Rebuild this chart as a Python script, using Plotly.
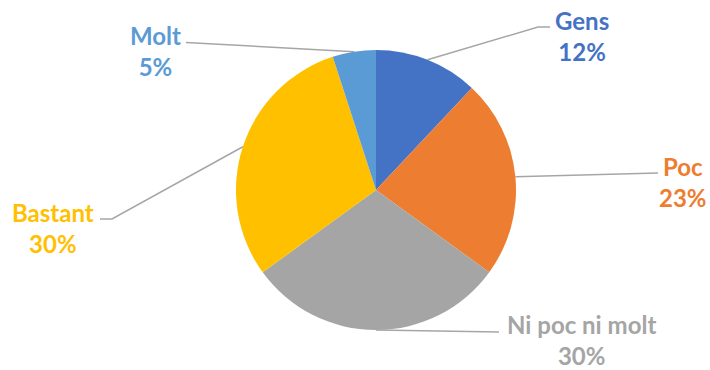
import numpy as np
import plotly.graph_objects as go

# Survey answers and their shares (%)
categories = ["Gens", "Poc", "Ni poc ni molt", "Bastant", "Molt"]
values = [12, 23, 30, 30, 5]
colors = ["#4472C4", "#ED7D31", "#A5A5A5", "#FFC000", "#5B9BD5"]

W, H = 710, 370
CX, CY, R = 376, 190, 140  # pie centre and radius in pixels (y from top)

# Where each label block sits, and where its leader line bends / ends near it
label_pos = {
    "Gens": (582, 36),
    "Poc": (683, 182),
    "Ni poc ni molt": (581, 340),
    "Bastant": (53, 228),
    "Molt": (155, 51),
}
leader_tail = {
    "Gens": [(538, 27), (550, 27)],
    "Poc": [(658, 173)],
    "Ni poc ni molt": [(499, 332)],
    "Bastant": [(112, 219), (100, 219)],
    "Molt": [(186, 42.5)],
}

total = sum(values)
fracs = np.array(values) / total
mids = np.cumsum(fracs) - fracs / 2  # slice mid-points, fraction of a turn from 12 o'clock

fig = go.Figure()

fig.add_trace(go.Pie(
    labels=categories,
    values=values,
    marker=dict(colors=colors, line=dict(width=0)),
    sort=False,
    direction="clockwise",
    rotation=0,
    textinfo="none",
    hoverinfo="label+percent",
    showlegend=False,
    domain=dict(x=[(CX - R) / W, (CX + R) / W],
                y=[(H - CY - R) / H, (H - CY + R) / H]),
))

# Leader lines from each slice edge out to its label
for cat, m in zip(categories, mids):
    ang = 2 * np.pi * m
    ex, ey = CX + R * np.sin(ang), CY - R * np.cos(ang)
    pts = [(ex, ey)] + leader_tail[cat]
    fig.add_trace(go.Scatter(
        x=[p[0] for p in pts], y=[p[1] for p in pts],
        mode="lines", line=dict(color="#A6A6A6", width=1.5),
        hoverinfo="skip", showlegend=False,
    ))

for cat, v, c in zip(categories, values, colors):
    x, y = label_pos[cat]
    fig.add_annotation(
        x=x, y=y, xref="x", yref="y",
        text=f"{cat}<br>{v / total * 100:.0f}%",
        showarrow=False, align="center",
        font=dict(family="Lato", size=24, color=c, weight="bold"),
    )

fig.update_layout(
    width=W, height=H,
    margin=dict(l=0, r=0, t=0, b=0),
    paper_bgcolor="white", plot_bgcolor="rgba(0,0,0,0)",
    xaxis=dict(range=[0, W], visible=False, fixedrange=True),
    yaxis=dict(range=[H, 0], visible=False, fixedrange=True),
)

fig.write_html("out.html")
